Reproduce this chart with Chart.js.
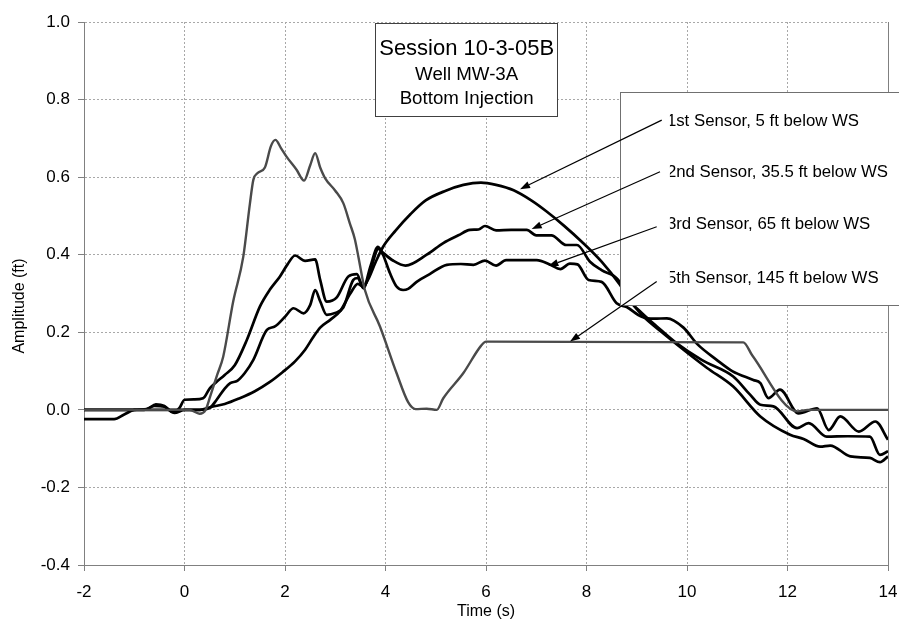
<!DOCTYPE html>
<html><head><meta charset="utf-8">
<script src="https://cdn.jsdelivr.net/npm/chart.js@4.4.0/dist/chart.umd.min.js"></script>
<style>html,body{margin:0;padding:0;background:#fff}#wrap{width:899px;height:624px}</style>
</head><body><div id="wrap"><canvas id="c" width="899" height="624"></canvas></div>
<script>
const xTicks = [-2, 0, 2, 4, 6, 8, 10, 12, 14];
const yTicks = [-0.4, -0.2, 0.0, 0.2, 0.4, 0.6, 0.8, 1.0];

const time1 = [-2,-1,0,0.3,0.55,0.8,1.1,1.4,1.7,1.95,2.2,2.4,2.55,2.7,2.9,3.1,3.3,3.45,3.55,3.65,3.8,3.95,4.2,4.5,4.8,5.2,5.55,5.9,6.2,6.55,6.9,7.2,7.55,7.9,8.3,8.65,8.85,9.1,9.5,9.93,10.4,10.92,11.46,12.05,12.32,12.65,12.85,13.25,13.64,13.84,14];
const sensor1 = [0,0,0,0,0.008,0.015,0.03,0.048,0.072,0.097,0.125,0.155,0.185,0.212,0.232,0.255,0.3,0.325,0.318,0.335,0.38,0.42,0.462,0.505,0.54,0.565,0.58,0.586,0.58,0.566,0.54,0.512,0.475,0.434,0.382,0.325,0.285,0.245,0.2,0.155,0.108,0.06,-0.017,-0.064,-0.075,-0.095,-0.092,-0.12,-0.124,-0.135,-0.12];

const time2 = [-2,-1.4,-1.2,-1.0,-0.75,-0.57,-0.4,-0.24,-0.1,0.0,0.2,0.37,0.5,0.62,0.8,1.0,1.24,1.5,1.7,1.9,2.05,2.2,2.4,2.6,2.7,2.83,3.03,3.26,3.43,3.56,3.7,3.86,3.96,4.15,4.4,4.82,5.15,5.45,5.68,5.85,5.98,6.2,6.5,6.81,7.0,7.3,7.6,7.81,8.07,8.3,8.63,8.8,9.1,9.4,9.79,10.3,10.92,11.25,11.46,11.72,12.19,12.42,12.78,13.2,13.64,13.84,14];
const sensor2 = [-0.024,-0.024,-0.012,0.0,0.002,0.014,0.01,-0.006,0.005,0.026,0.027,0.03,0.055,0.07,0.09,0.115,0.18,0.266,0.31,0.344,0.375,0.398,0.384,0.388,0.335,0.279,0.29,0.344,0.35,0.314,0.36,0.415,0.404,0.385,0.372,0.4,0.43,0.45,0.464,0.465,0.474,0.463,0.464,0.464,0.45,0.45,0.425,0.425,0.382,0.36,0.335,0.29,0.25,0.215,0.172,0.128,0.086,0.04,0.013,0.009,-0.047,-0.034,-0.069,-0.068,-0.069,-0.116,-0.107];

const time3 = [-2,-0.8,-0.6,-0.4,-0.2,0,0.3,0.5,0.64,0.8,0.91,1.05,1.2,1.37,1.64,1.8,2.0,2.17,2.37,2.5,2.6,2.7,2.83,3.0,3.16,3.36,3.45,3.56,3.7,3.85,3.95,4.09,4.22,4.35,4.45,4.62,4.88,5.22,5.5,5.75,5.98,6.2,6.4,6.7,7.01,7.28,7.48,7.67,7.82,8.04,8.3,8.6,8.8,9.1,9.35,9.6,9.93,10.2,10.59,10.9,11.32,11.46,11.62,11.85,12.22,12.59,12.82,13.05,13.42,13.75,14];
const sensor3 = [0,0,0.01,0.008,-0.008,0,0,0.005,0.026,0.055,0.069,0.075,0.095,0.129,0.206,0.215,0.24,0.262,0.249,0.27,0.309,0.28,0.245,0.25,0.264,0.335,0.34,0.314,0.37,0.42,0.4,0.352,0.318,0.309,0.312,0.33,0.35,0.374,0.376,0.374,0.385,0.372,0.386,0.386,0.386,0.374,0.363,0.377,0.375,0.335,0.33,0.275,0.265,0.24,0.235,0.236,0.212,0.17,0.129,0.1,0.077,0.069,0.03,0.052,-0.009,0.004,-0.052,-0.017,-0.056,-0.03,-0.077];

const time5 = [-2,0.1,0.3,0.42,0.51,0.65,0.77,0.97,1.17,1.3,1.37,1.45,1.6,1.72,1.81,1.92,2.03,2.23,2.38,2.5,2.6,2.7,2.8,3.0,3.16,3.29,3.39,3.46,3.59,3.89,4.22,4.45,4.6,4.82,5.02,5.15,5.55,5.9,6.0,11.12,11.3,12.2,12.4,14];
const sensor5 = [0,0,-0.01,0,0.034,0.09,0.137,0.28,0.395,0.53,0.593,0.61,0.625,0.68,0.696,0.675,0.653,0.619,0.591,0.63,0.662,0.625,0.597,0.565,0.533,0.481,0.44,0.395,0.309,0.215,0.095,0.02,0.002,0.003,0.0,0.03,0.095,0.165,0.176,0.174,0.14,-0.004,0,0];

const seriesNames = ['1st Sensor, 5 ft below WS', '2nd Sensor, 35.5 ft below WS', '3rd Sensor, 65 ft below WS', '5th Sensor, 145 ft below WS'];
const titleLines = ['Session 10-3-05B', 'Well MW-3A', 'Bottom Injection'];

const FONT = "'Liberation Sans', Arial, sans-serif";
const zip = (t, v) => t.map((x, i) => ({x: x, y: v[i]}));

// annotation layout (in data units)
const titleBox = {x0: 3.80, x1: 7.43, y0: 0.997, y1: 0.757, lineY: [0.930, 0.863, 0.802]};
const labelBox = {x0: 8.667, y0: 0.8196, y1: 0.2706, textX: 9.60, clipX: 9.66, textY: [0.745, 0.613, 0.477, 0.338]};
const arrowFrom = [[9.497, 0.747], [9.463, 0.614], [9.397, 0.472], [9.397, 0.331]];
const arrowTo = [[6.677, 0.569], [6.909, 0.466], [7.24, 0.371], [7.672, 0.176]];

const annot = {
  id: 'annot',
  afterDatasetsDraw(chart) {
    const {ctx, scales: {x, y}, chartArea} = chart;
    const px = v => x.getPixelForValue(v), py = v => y.getPixelForValue(v);
    ctx.save();
    // right border of plot
    ctx.strokeStyle = '#808080'; ctx.lineWidth = 1;
    ctx.beginPath(); ctx.moveTo(Math.round(chartArea.right) + 0.5, chartArea.top); ctx.lineTo(Math.round(chartArea.right) + 0.5, chartArea.bottom); ctx.stroke();

    // title box
    let bx = Math.round(px(titleBox.x0)) + 0.5, by = Math.round(py(titleBox.y0)) + 0.5;
    let bw = Math.round(px(titleBox.x1) - px(titleBox.x0)), bh = Math.round(py(titleBox.y1) - py(titleBox.y0));
    ctx.fillStyle = '#fff'; ctx.fillRect(bx, by, bw, bh);
    ctx.strokeStyle = '#404040'; ctx.strokeRect(bx, by, bw, bh);
    ctx.fillStyle = '#000'; ctx.textAlign = 'center'; ctx.textBaseline = 'middle';
    const cx = (px(titleBox.x0) + px(titleBox.x1)) / 2;
    titleLines.forEach((t, i) => {
      ctx.font = (i === 0 ? '22px ' : '18.7px ') + FONT;
      ctx.fillText(t, cx, py(titleBox.lineY[i]));
    });

    // label box
    bx = Math.round(px(labelBox.x0)) + 0.5; by = Math.round(py(labelBox.y0)) + 0.5;
    bh = Math.round(py(labelBox.y1) - py(labelBox.y0));
    bw = chart.width + 5 - bx;
    ctx.fillStyle = '#fff'; ctx.fillRect(bx, by, bw, bh);
    ctx.strokeStyle = '#707070'; ctx.strokeRect(bx, by, bw, bh);

    // labels (clipped on the left)
    ctx.save();
    ctx.beginPath(); ctx.rect(px(labelBox.clipX), by + 1, chart.width, bh - 2); ctx.clip();
    ctx.fillStyle = '#000'; ctx.textAlign = 'left'; ctx.textBaseline = 'middle';
    ctx.font = '16.8px ' + FONT;
    seriesNames.forEach((t, i) => ctx.fillText(t, px(labelBox.textX), py(labelBox.textY[i])));
    ctx.restore();

    // arrows
    ctx.strokeStyle = '#000'; ctx.fillStyle = '#000'; ctx.lineWidth = 1.2;
    arrowFrom.forEach((f, i) => {
      const x1 = px(f[0]), y1 = py(f[1]), x2 = px(arrowTo[i][0]), y2 = py(arrowTo[i][1]);
      const ang = Math.atan2(y2 - y1, x2 - x1), L = 10, W = 3.6;
      const bxp = x2 - L * Math.cos(ang), byp = y2 - L * Math.sin(ang);
      ctx.beginPath(); ctx.moveTo(x1, y1); ctx.lineTo(bxp, byp); ctx.stroke();
      ctx.beginPath(); ctx.moveTo(x2, y2);
      ctx.lineTo(bxp + W * Math.sin(ang), byp - W * Math.cos(ang));
      ctx.lineTo(bxp - W * Math.sin(ang), byp + W * Math.cos(ang));
      ctx.closePath(); ctx.fill();
    });

    // y axis title
    ctx.save();
    ctx.translate(20, 306); ctx.rotate(-Math.PI / 2);
    ctx.font = '16px ' + FONT; ctx.textAlign = 'center'; ctx.textBaseline = 'middle'; ctx.fillStyle = '#000';
    ctx.fillText('Amplitude (ft)', 0, 0);
    ctx.restore();
    ctx.restore();
  }
};

const lineDs = (label, t, v, color, w, order) => ({
  label, data: zip(t, v), borderColor: color, borderWidth: w, pointRadius: 0,
  cubicInterpolationMode: 'monotone', fill: false, order
});

new Chart(document.getElementById('c'), {
  type: 'line',
  data: {
    datasets: [
      lineDs(seriesNames[0], time1, sensor1, '#000', 2.7, 1),
      lineDs(seriesNames[1], time2, sensor2, '#000', 2.7, 2),
      lineDs(seriesNames[2], time3, sensor3, '#000', 2.7, 3),
      lineDs(seriesNames[3], time5, sensor5, '#4a4a4a', 2.4, 0)
    ]
  },
  options: {
    responsive: false, animation: false, devicePixelRatio: 1,
    layout: {padding: {left: 0, top: 22, right: 11, bottom: 0}},
    plugins: {legend: {display: false}, tooltip: {enabled: false}},
    scales: {
      x: {
        type: 'linear', min: xTicks[0], max: xTicks[xTicks.length - 1],
        afterBuildTicks: s => { s.ticks = xTicks.map(v => ({value: v})); },
        afterFit: s => { s.height = 59; s.paddingLeft = 0; s.paddingRight = 0; },
        ticks: {color: '#000', font: {size: 17, family: FONT}, padding: 11, maxRotation: 0, callback: v => String(v)},
        grid: {color: '#a8a8a8', lineWidth: 1, tickLength: 6, tickColor: '#808080', tickBorderDash: []},
        border: {display: true, color: '#808080', width: 1, dash: [2, 2]},
        title: {display: true, text: 'Time (s)', color: '#000', font: {size: 16, family: FONT}, padding: {top: 0, bottom: 3}}
      },
      y: {
        type: 'linear', min: yTicks[0], max: yTicks[yTicks.length - 1],
        afterBuildTicks: s => { s.ticks = yTicks.map(v => ({value: v})); },
        afterFit: s => { s.width = 84; s.paddingTop = 0; s.paddingBottom = 0; },
        ticks: {color: '#000', font: {size: 17, family: FONT}, padding: 8, callback: v => Number(v).toFixed(1)},
        grid: {color: '#a8a8a8', lineWidth: 1, tickLength: 6, tickColor: '#808080', tickBorderDash: []},
        border: {display: true, color: '#808080', width: 1, dash: [2, 2]}
      }
    }
  },
  plugins: [annot]
});
</script>
</body></html>
